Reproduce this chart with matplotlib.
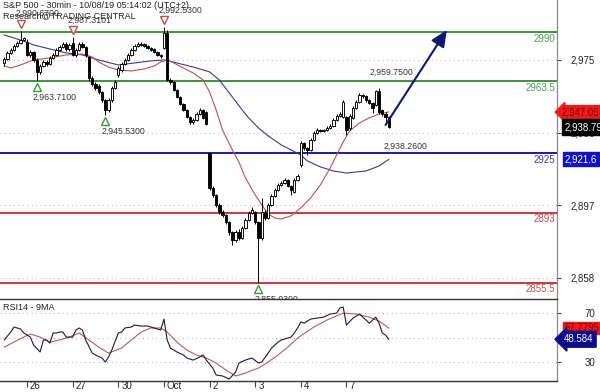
import matplotlib
matplotlib.use("Agg")
import matplotlib.pyplot as plt
import matplotlib.transforms as mtransforms
import numpy as np

plt.rcParams['font.family'] = ['Liberation Sans', 'DejaVu Sans']

# ---------------- data ----------------
opens = [2973.4, 2975.5, 2978.8, 2980.4, 2982.5, 2984.1, 2985.7, 2984.7, 2977.7, 2979.3,
         2975.0, 2968.6, 2971.8, 2973.9, 2972.9, 2976.1, 2977.7, 2980.4, 2982.0, 2983.6,
         2980.9, 2984.1, 2977.7, 2980.4, 2983.6, 2982.0, 2976.6, 2965.3, 2962.1, 2961.0,
         2957.8, 2953.5, 2948.2, 2953.5, 2960.0, 2966.9, 2969.6, 2972.9, 2975.0, 2977.7,
         2980.4, 2982.5, 2983.6, 2983.6, 2982.5, 2981.4, 2980.9, 2979.3, 2977.7, 2981.4,
         2989.5, 2964.3, 2963.2, 2958.9, 2955.1, 2951.4, 2948.2, 2944.4, 2941.7, 2942.8,
         2946.0, 2948.2, 2947.1, 2925.1, 2906.3, 2902.5, 2897.2, 2893.4, 2891.8, 2888.0,
         2882.7, 2878.4, 2882.7, 2879.4, 2884.8, 2889.1, 2892.9, 2893.4, 2888.0, 2879.4,
         2893.4, 2890.2, 2897.2, 2902.0, 2905.2, 2907.9, 2909.0, 2910.6, 2907.4, 2904.2,
         2910.6, 2918.6, 2930.4, 2927.8, 2926.7, 2932.1, 2935.8, 2937.4, 2936.9, 2937.4,
         2938.5, 2939.6, 2942.8, 2944.9, 2944.4, 2944.4, 2938.5, 2943.9, 2949.2, 2952.5,
         2956.2, 2955.7, 2953.5, 2951.9, 2950.8, 2958.4, 2948.2, 2946.0, 2944.4]
highs = [2976.5, 2979.8, 2981.4, 2983.4, 2985.0, 2990.67, 2987.5, 2986.3, 2980.4, 2980.0,
         2975.8, 2972.9, 2975.0, 2975.0, 2977.1, 2978.8, 2981.4, 2983.1, 2984.7, 2984.7,
         2984.1, 2987.31, 2981.4, 2984.7, 2984.7, 2982.5, 2977.1, 2966.4, 2963.2, 2962.1,
         2958.4, 2954.0, 2954.6, 2961.0, 2964.3, 2971.8, 2973.9, 2976.1, 2978.8, 2981.4,
         2983.6, 2984.7, 2984.4, 2984.1, 2983.1, 2982.0, 2981.4, 2979.8, 2978.2, 2992.53,
         2991.1, 2965.3, 2963.7, 2959.4, 2955.7, 2951.9, 2948.7, 2944.9, 2943.9, 2947.1,
         2949.2, 2948.7, 2947.6, 2925.6, 2907.4, 2903.0, 2898.2, 2894.5, 2892.3, 2888.5,
         2883.2, 2883.7, 2884.2, 2885.8, 2890.2, 2894.0, 2896.1, 2894.0, 2888.5, 2901.0,
         2894.5, 2898.2, 2903.0, 2906.3, 2909.0, 2910.1, 2911.7, 2911.2, 2907.9, 2911.7,
         2913.8, 2931.4, 2931.0, 2928.3, 2933.1, 2936.9, 2938.5, 2938.0, 2938.0, 2939.6,
         2940.6, 2943.9, 2946.0, 2947.1, 2953.5, 2945.0, 2946.0, 2950.3, 2953.5, 2957.3,
         2956.7, 2956.2, 2954.0, 2952.5, 2958.9, 2959.75, 2948.7, 2947.1, 2945.0]
lows = [2971.8, 2974.8, 2978.0, 2979.6, 2981.8, 2983.4, 2985.0, 2977.0, 2976.6, 2974.0,
        2963.71, 2967.5, 2971.0, 2971.8, 2972.3, 2975.5, 2977.1, 2979.8, 2981.4, 2980.0,
        2980.0, 2977.0, 2976.6, 2979.8, 2981.4, 2976.6, 2963.7, 2961.0, 2958.9, 2956.7,
        2952.5, 2945.53, 2947.1, 2952.5, 2959.4, 2965.8, 2968.6, 2972.3, 2974.5, 2977.1,
        2979.8, 2982.0, 2982.5, 2981.8, 2980.9, 2979.8, 2978.8, 2977.1, 2976.1, 2980.9,
        2963.7, 2962.1, 2958.4, 2954.6, 2950.8, 2947.6, 2943.9, 2940.6, 2940.6, 2942.2,
        2945.5, 2943.3, 2940.1, 2905.2, 2901.4, 2896.1, 2892.3, 2890.7, 2886.9, 2881.0,
        2875.7, 2877.3, 2878.4, 2878.9, 2884.2, 2888.5, 2892.3, 2887.0, 2855.03, 2878.4,
        2889.1, 2889.6, 2896.6, 2901.4, 2904.7, 2907.4, 2908.5, 2906.8, 2902.5, 2903.6,
        2910.1, 2917.5, 2926.7, 2924.0, 2926.2, 2931.5, 2935.2, 2936.3, 2936.3, 2936.9,
        2938.0, 2939.0, 2942.2, 2944.4, 2943.9, 2934.7, 2937.4, 2943.3, 2948.7, 2951.9,
        2954.6, 2952.5, 2951.4, 2946.6, 2950.3, 2946.0, 2944.9, 2941.7, 2938.26]
closes = [2975.5, 2978.8, 2980.4, 2982.5, 2984.1, 2985.7, 2986.8, 2977.7, 2979.3, 2975.0,
          2968.6, 2971.8, 2973.9, 2972.9, 2976.1, 2977.7, 2980.4, 2982.0, 2983.6, 2980.9,
          2983.1, 2977.7, 2980.4, 2983.6, 2982.0, 2977.7, 2965.3, 2962.1, 2960.0, 2957.8,
          2953.5, 2948.2, 2953.5, 2960.0, 2963.2, 2970.7, 2972.9, 2975.0, 2977.7, 2980.4,
          2982.5, 2983.6, 2983.3, 2982.5, 2981.4, 2980.4, 2979.3, 2977.7, 2977.1, 2989.5,
          2964.3, 2963.2, 2958.9, 2955.1, 2951.4, 2948.2, 2944.4, 2941.7, 2942.8, 2946.0,
          2948.2, 2943.9, 2940.6, 2906.3, 2902.5, 2897.2, 2893.4, 2891.8, 2888.0, 2882.7,
          2878.4, 2882.7, 2879.4, 2884.8, 2889.1, 2892.9, 2894.5, 2888.0, 2879.4, 2893.4,
          2890.2, 2897.2, 2902.0, 2905.2, 2907.9, 2909.0, 2910.6, 2907.4, 2905.2, 2910.6,
          2912.7, 2930.4, 2927.8, 2926.7, 2932.1, 2935.8, 2937.4, 2936.9, 2937.4, 2938.5,
          2939.6, 2942.8, 2944.9, 2946.0, 2952.5, 2937.4, 2944.9, 2949.2, 2952.5, 2956.2,
          2955.7, 2953.5, 2951.9, 2949.2, 2958.4, 2947.1, 2946.0, 2944.4, 2938.79]

day_ticks = [7, 21, 35, 49, 63, 77, 91, 105]
day_labels = ["26", "27", "30", "Oct", "2", "3", "4", "7"]

ma_fast_idx = [0, 2, 5, 9, 14, 19, 24, 27, 29, 32, 35, 39, 43, 46, 48, 50, 52, 55, 58, 61,
               63, 65, 67, 70, 72, 74, 77, 79, 81, 83, 85, 88, 91, 94, 97, 100, 102, 104,
               106, 109, 112, 115, 118]
ma_fast_val = [2971.8, 2970.7, 2972.3, 2975.0, 2976.1, 2977.7, 2978.2, 2976.6, 2973.9, 2971.2,
               2969.6, 2969.1, 2970.2, 2971.8, 2973.9, 2975.0, 2973.4, 2970.7, 2968.0, 2964.3,
               2957.8, 2948.2, 2937.4, 2926.7, 2920.2, 2911.7, 2902.5, 2897.2, 2892.3, 2890.2,
               2889.6, 2891.3, 2895.6, 2900.9, 2907.9, 2917.0, 2924.0, 2931.0,
               2936.9, 2941.2, 2943.9, 2946.0, 2947.1]
ma_slow_idx = [0, 5, 9, 14, 19, 24, 29, 35, 40, 45, 49, 53, 58, 63, 66, 70, 73, 75, 78, 81,
               85, 91, 93, 97, 101, 105, 111, 115, 118]
ma_slow_val = [2988.4, 2985.7, 2983.1, 2980.9, 2978.8, 2977.7, 2975.0, 2972.3, 2973.4, 2974.5,
               2975.0, 2973.4, 2971.2, 2968.6, 2964.3, 2955.1, 2948.2, 2943.9, 2938.5, 2934.2,
               2929.4, 2924.0, 2920.8, 2917.6, 2915.4, 2914.3, 2915.4, 2918.1, 2921.6]

rsi_idx = [0, 2, 3, 5, 6, 8, 9, 11, 12, 13, 14, 15, 16, 17, 18, 19, 21, 22, 23, 24, 25, 27,
           28, 30, 31, 32, 33, 35, 36, 37, 39, 40, 42, 44, 46, 48, 49, 50, 51, 53, 55, 56,
           58, 60, 61, 62, 64, 65, 67, 69, 71, 72, 74, 76, 78, 79, 81, 82, 84, 85, 87, 88,
           89, 90, 91, 92, 94, 96, 98, 100, 102, 103, 104, 105, 107, 109, 111, 112, 114,
           115, 116, 117, 118]
rsi_val = [48.0, 54.5, 58.6, 57.0, 53.7, 50.4, 43.9, 38.2, 48.0, 48.0, 45.5, 53.7, 53.7, 54.5,
           54.5, 50.4, 50.4, 56.1, 57.8, 56.1, 48.0, 37.3, 35.7, 33.3, 30.0, 34.1, 39.8, 53.7,
           54.5, 57.8, 58.6, 60.2, 59.4, 59.4, 57.8, 56.1, 65.1, 48.0, 41.4, 38.2, 35.7, 33.3,
           31.6, 34.1, 35.7, 31.6, 25.1, 19.4, 18.6, 16.1, 21.8, 29.2, 31.6, 33.3, 29.2, 30.0,
           37.3, 41.4, 46.3, 48.0, 49.6, 50.4, 53.7, 57.8, 62.7, 61.8, 65.1, 65.9, 66.7, 69.2,
           70.0, 74.1, 74.9, 60.2, 65.9, 69.2, 64.3, 61.8, 66.7, 61.8, 53.7, 52.0, 48.584]
rsi_ma_idx = [0, 3, 6, 8, 11, 14, 17, 20, 23, 26, 29, 32, 36, 39, 42, 45, 48, 50, 53, 56, 59,
              62, 65, 68, 71, 74, 78, 81, 84, 87, 90, 95, 99, 104, 108, 112, 115, 118]
rsi_ma_val = [42.2, 46.3, 50.4, 52.9, 50.4, 46.3, 48.0, 50.4, 53.7, 48.0, 42.2, 37.3, 41.4,
              48.0, 54.5, 57.8, 57.8, 54.5, 46.3, 39.8, 35.7, 33.3, 29.2, 23.5, 18.6, 21.0,
              25.1, 30.0, 35.7, 42.2, 49.6, 58.6, 64.3, 70.0, 69.2, 66.7, 63.5, 57.7795]

levels = [2990, 2963.5, 2925, 2893, 2855.5]
level_labels = ["2990", "2963.5", "2925", "2893", "2855.5"]
level_colors = ["#3d943d", "#3d943d", "#1a1aa0", "#c83a3a", "#c83a3a"]
level_text_colors = ["#4d9e4d", "#4d9e4d", "#3a3aa8", "#c85050", "#c85050"]

price_ticks = [2858, 2897, 2936, 2975]
price_tick_labels = ["2,858", "2,897", "2,936", "2,975"]
rsi_ticks = [30, 50, 70]
rsi_tick_labels = ["30", "50", "70"]

high_mark_idx = [5, 21, 49]
high_mark_val = [2990.67, 2987.31, 2992.53]
high_mark_txt = ["2,990.6700", "2,987.3101", "2,992.5300"]
low_mark_idx = [10, 31, 78]
low_mark_val = [2963.71, 2945.53, 2855.03]
low_mark_txt = ["2,963.7100", "2,945.5300", "2,855.0300"]

arrow_from = (117, 2940.1)
arrow_to = (135.8, 2991.1)

# ---------------- figure ----------------
fig = plt.figure(figsize=(6.0, 3.92), dpi=100)
W, H = 600.0, 392.0
ax = fig.add_axes([0, 94 / H, 557 / W, 298 / H])
axr = fig.add_axes([0, 11 / H, 557 / W, 82 / H])

px = 72.0 / 100.0  # points per pixel

o = np.array(opens); c = np.array(closes); h = np.array(highs); l = np.array(lows)
x = np.arange(len(o))
up = c >= o

ax.set_xlim(-1.3, 169.6)
ax.set_ylim(2847.2, 3007.2)
axr.set_xlim(-1.3, 169.6)
axr.set_ylim(14.5, 81.5)

# grid
for t in price_ticks:
    ax.axhline(t, color="#b8b8b8", lw=0.8, ls=(0, (1, 3)), zorder=1)
for t in rsi_ticks:
    axr.axhline(t, color="#b8b8b8", lw=0.8, ls=(0, (1, 3)), zorder=1)

# levels
for lv, lt, lc, tc in zip(levels, level_labels, level_colors, level_text_colors):
    ax.axhline(lv, color=lc, lw=1.4, zorder=2)
    ax.annotate(lt, xy=(1.0, lv), xycoords=ax.get_yaxis_transform(),
                xytext=(-2 * px, -1.5 * px), textcoords="offset points",
                ha="right", va="top", fontsize=7, color=tc, zorder=6)

# moving averages
ax.plot(ma_slow_idx, ma_slow_val, color="#3c3c8a", lw=0.8, zorder=3)
ax.plot(ma_fast_idx, ma_fast_val, color="#b85454", lw=0.8, zorder=3)

# candles
ax.vlines(x, l, h, color="black", lw=0.7, zorder=4)
ax.bar(x[up], (c - o)[up], bottom=o[up], width=0.72, color="white",
       edgecolor="black", lw=0.65, zorder=5)
ax.bar(x[~up], (o - c)[~up], bottom=c[~up], width=0.72, color="black",
       edgecolor="black", lw=0.65, zorder=5)

# swing markers
tr_hi = mtransforms.offset_copy(ax.transData, fig=fig, x=0, y=7 * px, units="points")
tr_lo = mtransforms.offset_copy(ax.transData, fig=fig, x=0, y=-6 * px, units="points")
ax.plot(high_mark_idx, high_mark_val, "v", ms=6, mfc="white", mec="#c0504d",
        mew=1.0, transform=tr_hi, zorder=6, clip_on=False)
ax.plot(low_mark_idx, low_mark_val, "^", ms=6, mfc="white", mec="#3a9a3a",
        mew=1.0, transform=tr_lo, zorder=6, clip_on=False)
for xi, v, t in zip(high_mark_idx, high_mark_val, high_mark_txt):
    ax.annotate(t, xy=(xi, v), xytext=(-5 * px, 17 * px), textcoords="offset points",
                ha="left", va="center", fontsize=6.3, color="#333333", zorder=6)
for xi, v, t in zip(low_mark_idx, low_mark_val, low_mark_txt):
    ax.annotate(t, xy=(xi, v), xytext=(-4 * px, -16 * px), textcoords="offset points",
                ha="left", va="center", fontsize=6.3, color="#333333", zorder=6)
ax.annotate("2,959.7500", xy=(115, 2959.75), xytext=(-9 * px, 16 * px),
            textcoords="offset points", ha="left", va="center", fontsize=6.3,
            color="#333333", zorder=6)
ax.annotate("2,938.2600", xy=(118, 2938.26), xytext=(-5 * px, -17.5 * px),
            textcoords="offset points", ha="left", va="center", fontsize=6.3,
            color="#333333", zorder=6)

# arrow
ax.annotate("", xy=arrow_to, xytext=arrow_from,
            arrowprops=dict(arrowstyle="-|>,head_length=1.0,head_width=0.45",
                            color="#0b1a70", lw=1.5, mutation_scale=10,
                            shrinkA=0, shrinkB=0), zorder=7)

# title texts
fig.text(3 / W, 1 - 5 / H, "S&P 500 - 30min - 10/08/19 05:14:02 (UTC+2)",
         fontsize=6.5, color="#222222", ha="left", va="center")
fig.text(3 / W, 1 - 16 / H, "Research@TRADING CENTRAL",
         fontsize=6.5, color="#222222", ha="left", va="center")

# RSI
axr.plot(rsi_ma_idx, rsi_ma_val, color="#b85c5c", lw=0.8, zorder=3)
axr.plot(rsi_idx, rsi_val, color="#1a1a3a", lw=0.8, zorder=4)
axr.text(3 / 557, 1 - 4 / 82, "RSI14 - 9MA", transform=axr.transAxes,
         fontsize=6.5, color="#222222", ha="left", va="top")

# spines
for a in (ax, axr):
    a.spines["left"].set_visible(False)
    a.spines["right"].set_color("#8a8a8a")
    a.spines["right"].set_linewidth(0.9)
ax.spines["top"].set_visible(False)
ax.spines["bottom"].set_visible(False)
axr.spines["top"].set_color("#333333")
axr.spines["bottom"].set_color("#333333")
axr.spines["top"].set_linewidth(1.0)
axr.spines["bottom"].set_linewidth(1.0)

# y ticks on right
for a, tks, lbls in ((ax, price_ticks, price_tick_labels), (axr, rsi_ticks, rsi_tick_labels)):
    a.yaxis.tick_right()
    a.set_yticks(tks)
    a.set_yticklabels(lbls)
    a.tick_params(axis="y", direction="out", length=3, width=0.8, color="#444444",
                  pad=34 * px, labelsize=7, labelcolor="#222222")
    for lb in a.get_yticklabels():
        lb.set_horizontalalignment("right")

ax.set_xticks([])
axr.set_xticks(day_ticks)
axr.set_xticklabels(day_labels)
axr.tick_params(axis="x", direction="out", length=4, width=0.8, color="#444444",
                pad=-4.0, labelsize=7, labelcolor="#222222")
off = mtransforms.ScaledTranslation(3 / 100, 0, fig.dpi_scale_trans)
for lb in axr.get_xticklabels():
    lb.set_horizontalalignment("left")
    lb.set_transform(lb.get_transform() + off)

# price tags
bt = ax.get_yaxis_transform()
ax.text(1.009, 2947.05, "2,947.05", transform=bt, fontsize=7, color="#7a0000",
        ha="left", va="center", zorder=10, clip_on=False,
        bbox=dict(boxstyle="larrow,pad=0.15", fc="#ee1a1a", ec="#ee1a1a"))
ax.text(1.0135, 2938.79, "2,938.79", transform=bt, fontsize=7, color="white",
        ha="left", va="center", zorder=10, clip_on=False,
        bbox=dict(boxstyle="square,pad=0.3", fc="black", ec="black"))
ax.text(1.0135, 2921.6, "2,921.6", transform=bt, fontsize=7, color="white",
        ha="left", va="center", zorder=10, clip_on=False,
        bbox=dict(boxstyle="square,pad=0.2", fc="#1010c8", ec="#1010c8"))
rt = axr.get_yaxis_transform()
axr.text(1.0135, 57.7795, "57.7795", transform=rt, fontsize=7, color="#7a0000",
         ha="left", va="center", zorder=10, clip_on=False,
         bbox=dict(boxstyle="square,pad=0.15", fc="#ee1a1a", ec="#ee1a1a"))
axr.text(1.012, 48.584, "48.584", transform=rt, fontsize=7, color="white",
         ha="left", va="center", zorder=11, clip_on=False,
         bbox=dict(boxstyle="larrow,pad=0.3", fc="#0c0c8a", ec="#0c0c8a"))

fig.savefig("out.png", dpi=100)
